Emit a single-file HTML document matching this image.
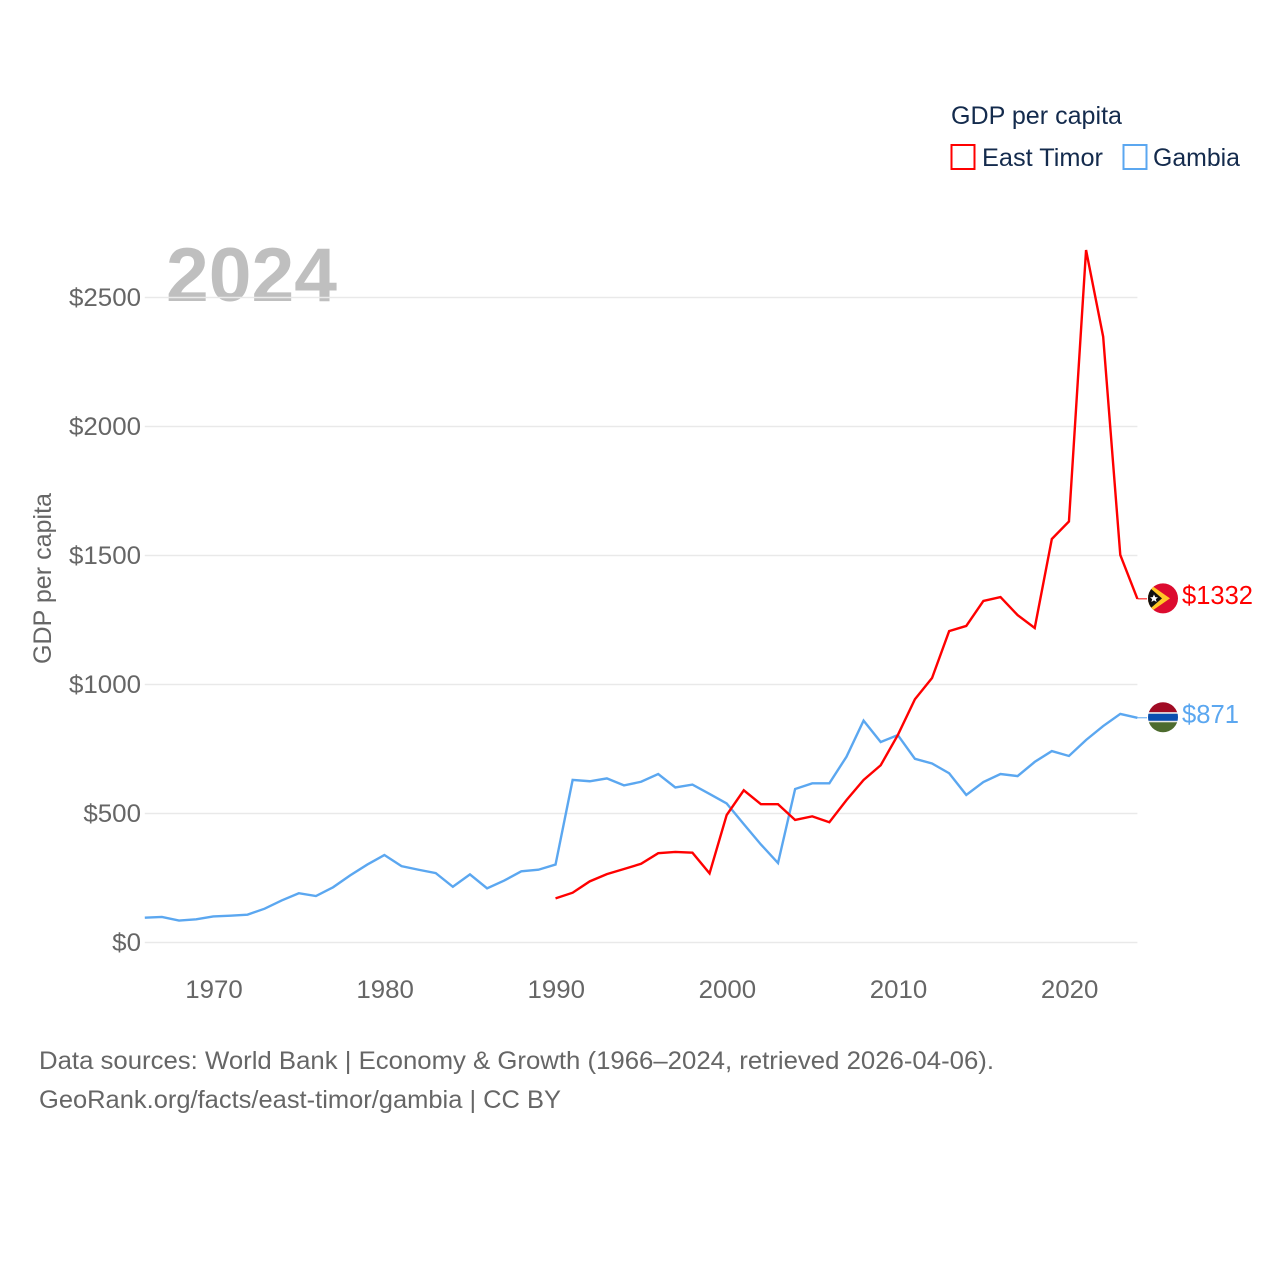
<!DOCTYPE html>
<html lang="en">
<head>
<meta charset="utf-8">
<title>GDP per capita: East Timor and Gambia</title>
<style>
  html, body { margin: 0; padding: 0; background: #fff; }
  svg { display: block; font-family: "Liberation Sans", sans-serif; }
</style>
</head>
<body>
<svg id="chart" xmlns="http://www.w3.org/2000/svg" width="1280" height="1280" viewBox="0 0 1280 1280">
  <rect x="0" y="0" width="1280" height="1280" fill="#ffffff"/>

  <g>
    <text x="951" y="124" font-size="25" fill="#142b4d" textLength="171" lengthAdjust="spacingAndGlyphs">GDP per capita</text>
    <g>
      <rect x="951.5" y="145" width="23" height="24" fill="none" stroke="#ff0000" stroke-width="2"/>
      <text x="982" y="166" font-size="25" fill="#142b4d" textLength="121" lengthAdjust="spacingAndGlyphs">East Timor</text>
    </g>
    <g>
      <rect x="1123.5" y="145" width="23" height="24" fill="none" stroke="#5ba7f0" stroke-width="2"/>
      <text x="1153" y="166" font-size="25" fill="#142b4d" textLength="87" lengthAdjust="spacingAndGlyphs">Gambia</text>
    </g>
  </g>

  <text x="166" y="301" font-size="76" font-weight="700" fill="#bfbfbf" textLength="171" lengthAdjust="spacingAndGlyphs">2024</text>

  <g id="grid"></g>
  <g id="y-ticks"></g>
  <g id="x-ticks"></g>

  <text transform="translate(51 578.5) rotate(-90)" text-anchor="middle" font-size="25" fill="#666666" textLength="171" lengthAdjust="spacingAndGlyphs">GDP per capita</text>

  <g id="series"></g>
  <g id="end-markers"></g>

  <text x="39" y="1069" font-size="25" fill="#666666" textLength="955" lengthAdjust="spacingAndGlyphs">Data sources: World Bank | Economy &amp; Growth (1966–2024, retrieved 2026-04-06).</text>
  <text x="39" y="1108" font-size="25" fill="#666666" textLength="522" lengthAdjust="spacingAndGlyphs">GeoRank.org/facts/east-timor/gambia | CC BY</text>
</svg>

<script>
const years = [1966,1967,1968,1969,1970,1971,1972,1973,1974,1975,1976,1977,1978,1979,1980,1981,1982,1983,1984,1985,1986,1987,1988,1989,1990,1991,1992,1993,1994,1995,1996,1997,1998,1999,2000,2001,2002,2003,2004,2005,2006,2007,2008,2009,2010,2011,2012,2013,2014,2015,2016,2017,2018,2019,2020,2021,2022,2023,2024];
const gambiaValues = [96,99,85,90,101,104,108,131,163,191,180,214,260,302,339,296,282,269,216,264,210,240,276,282,302,630,625,636,609,623,653,601,612,576,539,459,380,308,595,617,617,720,860,777,804,712,694,656,572,622,653,645,700,742,723,785,839,886,871];
const eastTimorValues = [null,null,null,null,null,null,null,null,null,null,null,null,null,null,null,null,null,null,null,null,null,null,null,null,171,193,237,265,285,305,346,351,348,268,494,590,536,536,475,489,466,552,630,687,804,943,1025,1207,1227,1324,1339,1269,1219,1564,1632,2684,2348,1502,1332];
const yTickValues = [0,500,1000,1500,2000,2500];
const xTickValues = [1970,1980,1990,2000,2010,2020];

const NS = 'http://www.w3.org/2000/svg';
const PLOT = { left: 144.8, right: 1137.4, bottom: 942.5, top: 297.5 };
function xScale(year) {
  return PLOT.left + (year - 1966) * (PLOT.right - PLOT.left) / (2024 - 1966);
}
function yScale(value) {
  return PLOT.bottom - value * (PLOT.bottom - PLOT.top) / 2500;
}
function make(tag, attrs, parent) {
  const el = document.createElementNS(NS, tag);
  for (const k in attrs) el.setAttribute(k, attrs[k]);
  parent.appendChild(el);
  return el;
}

const gridGroup = document.getElementById('grid');
const yTickGroup = document.getElementById('y-ticks');
yTickValues.forEach(function (v) {
  const line = make('line', { x1: PLOT.left, x2: PLOT.right, y1: yScale(v), y2: yScale(v), stroke: '#e9e9e9', 'stroke-width': 1.4 }, gridGroup);
  
  
  const text = '$' + v;
  const label = make('text', { x: 141, y: yScale(v) + 8.5, 'text-anchor': 'end', 'font-size': 25, fill: '#666666', textLength: text.length * 14.4, lengthAdjust: 'spacingAndGlyphs' }, yTickGroup);
  label.textContent = text;
  
  
});

const xTickGroup = document.getElementById('x-ticks');
xTickValues.forEach(function (yr) {
  const label = make('text', { x: xScale(yr) + 0.7, y: 998, 'text-anchor': 'middle', 'font-size': 25, fill: '#666666', textLength: 57.5, lengthAdjust: 'spacingAndGlyphs' }, xTickGroup);
  label.textContent = String(yr);
  
  
});

function pathFor(values) {
  let d = '';
  values.forEach(function (v, i) {
    if (v === null) return;
    d += (d ? ' L' : 'M') + xScale(years[i]).toFixed(2) + ' ' + yScale(v).toFixed(2);
  });
  return d;
}

const seriesGroup = document.getElementById('series');
const markerGroup = document.getElementById('end-markers');

const gambiaLine = make('path', { d: pathFor(gambiaValues), fill: 'none', stroke: '#5ba7f0', 'stroke-width': 2.4, 'stroke-linejoin': 'miter' }, seriesGroup);



const eastTimorLine = make('path', { d: pathFor(eastTimorValues), fill: 'none', stroke: '#ff0000', 'stroke-width': 2.4, 'stroke-linejoin': 'miter' }, seriesGroup);



const FLAG_X = 1163;
const FLAG_R = 15;
const FLAG_OFFSET = -0.5;

function addLeader(y, color, name) {
  const leader = make('line', { x1: PLOT.right, x2: 1147, y1: y, y2: y, stroke: color, 'stroke-width': 1 }, markerGroup);
  
  
}
function addValueLabel(value, y, color, name, width) {
  const label = make('text', { x: 1182, y: y + 5, 'font-size': 26, fill: color, textLength: width, lengthAdjust: 'spacingAndGlyphs' }, markerGroup);
  label.textContent = '$' + value;
  
  
}

// East Timor end marker
const etLast = eastTimorValues[eastTimorValues.length - 1];
const etY = yScale(etLast);
addLeader(etY, '#ff0000', 'leader-east-timor');
const etClip = make('clipPath', { id: 'clip-et' }, markerGroup);
make('circle', { cx: 0, cy: 0, r: FLAG_R }, etClip);
const etFlag = make('g', { 'clip-path': 'url(#clip-et)', transform: 'translate(' + FLAG_X + ' ' + (etY + FLAG_OFFSET) + ')' }, markerGroup);


make('rect', { x: -16, y: -16, width: 32, height: 32, fill: '#dc0b2f' }, etFlag);
make('polygon', { points: '-16,-16 7,0 -16,16', fill: '#ffc726' }, etFlag);
make('polygon', { points: '-16,-13 -1,0 -16,13', fill: '#111111' }, etFlag);
make('polygon', { points: '-9,-4 -7.8,-1.2 -5,-1 -7.2,0.8 -6.4,3.6 -9,2 -11.6,3.6 -10.8,0.8 -13,-1 -10.2,-1.2', fill: '#ffffff' }, etFlag);
addValueLabel(etLast, etY, '#ff0000', 'value-label-east-timor', 71);

// Gambia end marker
const gmLast = gambiaValues[gambiaValues.length - 1];
const gmY = yScale(gmLast);
addLeader(gmY, '#5ba7f0', 'leader-gambia');
const gmClip = make('clipPath', { id: 'clip-gm' }, markerGroup);
make('circle', { cx: 0, cy: 0, r: FLAG_R }, gmClip);
const gmFlag = make('g', { 'clip-path': 'url(#clip-gm)', transform: 'translate(' + FLAG_X + ' ' + (gmY + FLAG_OFFSET) + ')' }, markerGroup);


make('rect', { x: -16, y: -16, width: 32, height: 11, fill: '#a00b24' }, gmFlag);
make('rect', { x: -16, y: -5, width: 32, height: 10, fill: '#e8e8e8' }, gmFlag);
make('rect', { x: -16, y: -3.5, width: 32, height: 7, fill: '#0a4fb0' }, gmFlag);
make('rect', { x: -16, y: 5, width: 32, height: 11, fill: '#4d6b2e' }, gmFlag);
addValueLabel(gmLast, gmY, '#5ba7f0', 'value-label-gambia', 57);
</script>
</body>
</html>
